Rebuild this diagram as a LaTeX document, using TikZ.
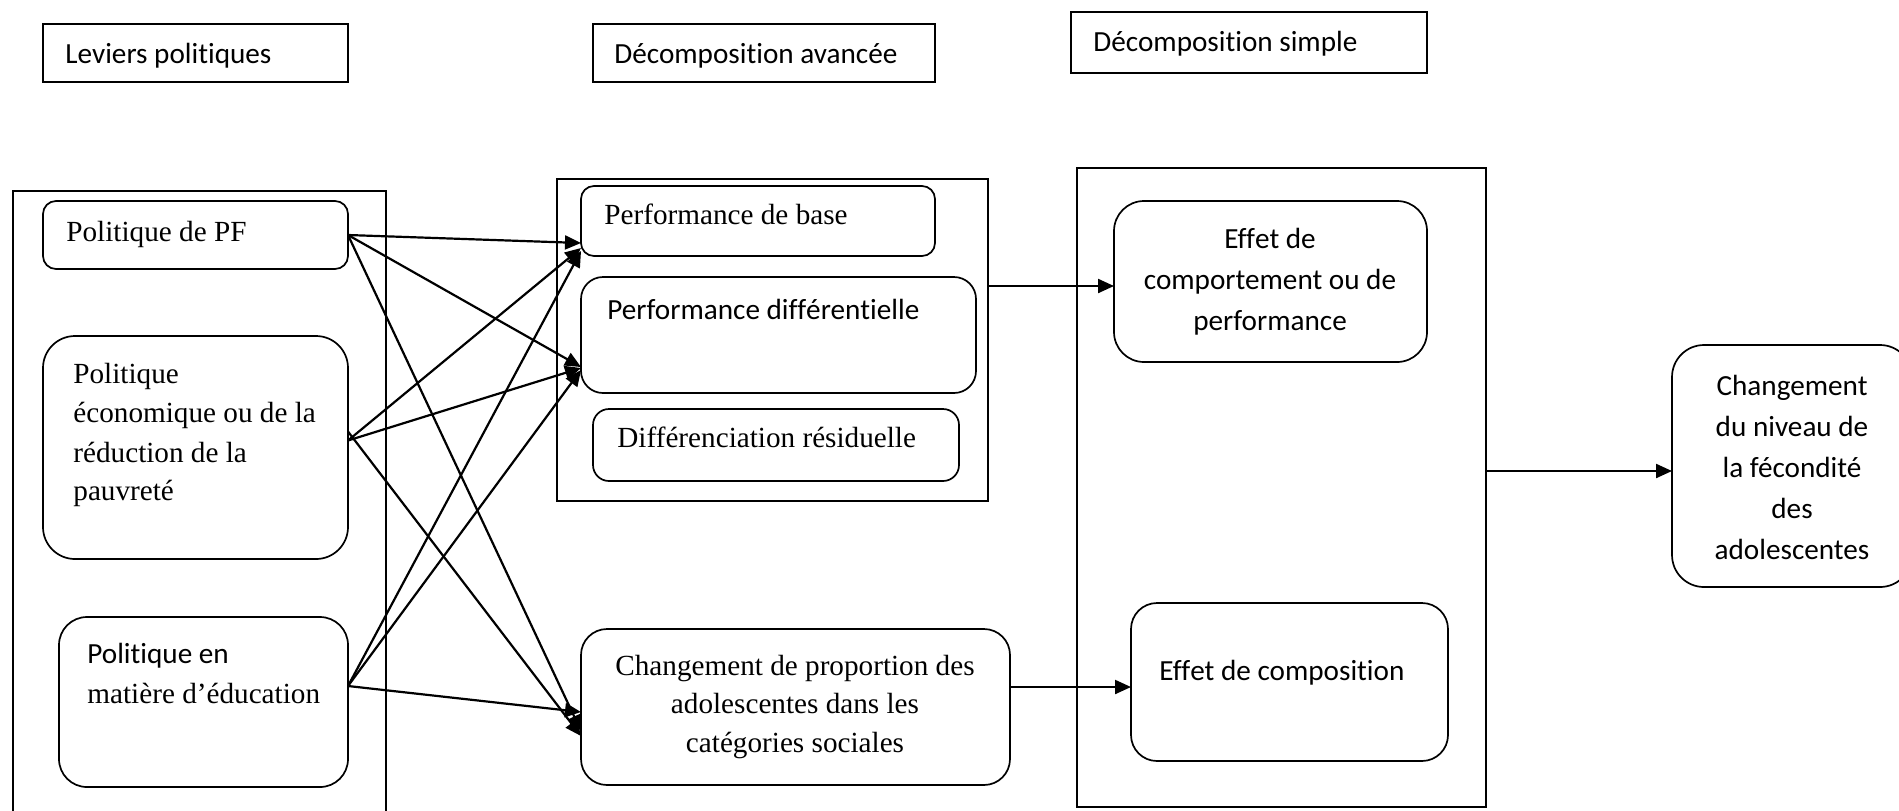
\documentclass[tikz,border=0pt]{standalone}
\usepackage{fontspec}
\setmainfont{Liberation Serif}
\newfontfamily\calib[Ligatures=NoCommon, Contextuals=NoAlternate]{Carlito}
\usetikzlibrary{arrows.meta,calc}
\tikzset{
  frame/.style={draw, line width=1pt, inner sep=0pt, outer sep=0pt},
  rbox/.style={draw, line width=0.85pt, rounded corners=#1, inner sep=0pt, outer sep=0pt},
  tnr/.style={font=\fontsize{14.6}{19.5}\selectfont, inner sep=0pt},
  cal/.style={font=\calib\fontsize{14.6}{20.5}\selectfont, inner sep=0pt},
  link/.style={line width=1.1pt, -{Triangle[length=8pt,width=7pt]}}
}
\newcommand\mkbox[6]{\node[#6, minimum width={(#4-#2)*0.5pt}, minimum height={(#5-#3)*0.5pt}] (#1) at ({(#2+#4)/2},{(#3+#5)/2}) {};}
\begin{document}
\begin{tikzpicture}[x=0.5pt,y=-0.5pt]
\useasboundingbox (0,0) rectangle (1899,810);
% title boxes
\mkbox{lev}{43}{24}{348}{82}{frame}
\mkbox{dav}{593}{24}{935}{82}{frame}
\mkbox{dsi}{1071}{12}{1427}{73}{frame}
\node[cal, anchor=base west] (levt) at (65,63) {Leviers poli\kern0pt tiques};
\node[cal, anchor=base west] (davt) at (614,63) {Décomposi\kern0pt tion avancée};
\node[cal, anchor=base west] (dsit) at (1093,51) {Décomposi\kern0pt tion simple};
% big frames
\mkbox{lbig}{13}{191}{386}{830}{frame}
\mkbox{mid}{557}{179}{988}{501}{frame}
\mkbox{rbig}{1077}{168}{1486}{807}{frame}
% left column
\mkbox{pf}{43}{201}{348}{269}{rbox=6.5pt}
\mkbox{eco}{43}{336}{348}{559}{rbox=16pt}
\mkbox{edu}{59}{617}{348}{787}{rbox=14pt}
\node[tnr, anchor=base west] (pft) at (66,241) {Politique de PF};
\node[tnr, anchor=base west] (ecot1) at (73,383) {Politique};
\node[tnr, anchor=base west] (ecot2) at (73,422) {économique ou de la};
\node[tnr, anchor=base west] (ecot3) at (73,462) {réduction de la};
\node[tnr, anchor=base west] (ecot4) at (73,500) {pauvreté};
\node[cal, anchor=base west] (edut1) at (87,663) {Poli\kern0pt tique en};
\node[tnr, anchor=base west] (edut2) at (87,703) {matière d’éducation};
% middle column
\mkbox{pb}{581}{186}{935}{256}{rbox=6.5pt}
\mkbox{pd}{581}{277}{976}{393}{rbox=11pt}
\mkbox{dr}{593}{409}{959}{481}{rbox=8pt}
\mkbox{cp}{581}{629}{1010}{785}{rbox=13pt}
\node[tnr, anchor=base west] (pbt) at (604,224) {Performance de base};
\node[cal, anchor=base west] (pdt) at (607,319) {Performance diff\kern0pt éren\kern0pt tielle};
\node[tnr, anchor=base west] (drt) at (617,447) {Différenciation résiduelle};
\node[tnr, align=center, font=\fontsize{14.6}{19.25}\selectfont] (cpt) at (795,707) {Changement de proportion des\\adolescentes dans les\\catégories sociales};
% right column
\mkbox{ec}{1114}{201}{1427}{362}{rbox=15pt}
\mkbox{cmp}{1131}{603}{1448}{761}{rbox=13pt}
\mkbox{nv}{1672}{345}{1912}{587}{rbox=16pt}
\node[cal, align=center] (ect) at (1270,282) {Eff\kern0pt et de\\comportement ou de\\performance};
\node[cal, anchor=base west] (cmpt) at (1159,680) {Eff\kern0pt et de composi\kern0pt tion};
\node[cal, align=center] (nvt) at (1792,467) {Changement\\du niveau de\\la fécondité\\des\\adolescentes};
% crossing connectors
\draw[link] (pf.east) -- ($(pb.west)+(0,22)$);
\draw[link] (pf.east) -- ($(pd.west)+(0,32)$);
\draw[link] (pf.east) -- ($(cp.west)+(0,24)$);
\draw[link] ($(eco.east)+(0,-7)$) -- ($(pb.west)+(0,27)$);
\draw[link] ($(eco.east)+(0,-7)$) -- ($(pd.west)+(0,33)$);
\draw[link] ($(eco.east)+(0,-16)$) -- ($(cp.west)+(0,29)$);
\draw[link] ($(edu.east)+(0,-16)$) -- ($(pb.west)+(0,30)$);
\draw[link] ($(edu.east)+(0,-16)$) -- ($(pd.west)+(0,35)$);
\draw[link] ($(edu.east)+(0,-16)$) -- ($(cp.west)+(0,5)$);
% outputs
\coordinate (ecin) at ($(ec.west)+(0,4.5)$);
\coordinate (cmpin) at ($(cmp.west)+(0,5)$);
\coordinate (nvin) at ($(nv.west)+(0,5)$);
\draw[link] (ecin -| mid.east) -- (ecin);
\draw[link] (cmpin -| cp.east) -- (cmpin);
\draw[link] (nvin -| rbig.east) -- (nvin);
\end{tikzpicture}
\end{document}
